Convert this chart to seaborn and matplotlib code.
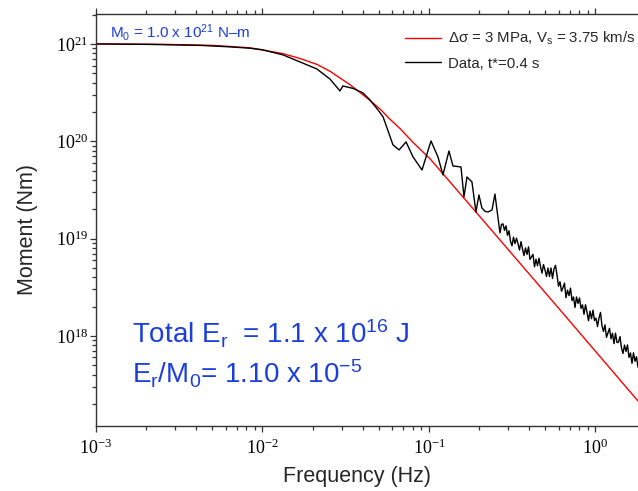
import numpy as np
import matplotlib
matplotlib.use("Agg")
import matplotlib.pyplot as plt
import seaborn as sns
import pandas as pd
from matplotlib.ticker import LogLocator, NullFormatter

# ---- values (frequency in Hz, log10 of moment in N·m) ----
model_freq = [0.001, 0.0025, 0.005, 0.0084, 0.0133, 0.0168, 0.0212, 0.0254, 0.0292,
              0.0336, 0.0386, 0.0442, 0.0509, 0.058, 0.067, 0.080, 0.1014, 0.2023,
              0.612, 1.80]
model_log_moment = [21.0, 20.996, 20.985, 20.96, 20.90, 20.85, 20.79, 20.72, 20.65,
                    20.58, 20.50, 20.42, 20.33, 20.23, 20.13, 19.99, 19.82, 19.225,
                    18.268, 17.331]

data_freq = [0.001, 0.00211, 0.00422, 0.00638, 0.00841, 0.01, 0.0133, 0.0168, 0.0212,
             0.0254, 0.0292, 0.0304, 0.0350, 0.0402, 0.0442, 0.0494, 0.0530, 0.0608,
             0.0661, 0.0728, 0.0802, 0.0908, 0.1028, 0.1132, 0.1213, 0.1318, 0.1393,
             0.1556, 0.1622, 0.1691, 0.1811, 0.1914, 0.1995, 0.208, 0.217, 0.226,
             0.239, 0.249, 0.256,
             0.2669, 0.2725, 0.2782, 0.2841, 0.2900, 0.2961, 0.3023, 0.3087, 0.3151,
             0.3217, 0.3285, 0.3354, 0.3424, 0.3496, 0.3569, 0.3644, 0.3720, 0.3798,
             0.3878, 0.3959, 0.4042, 0.4127, 0.4213, 0.4302, 0.4392, 0.4484, 0.4578,
             0.4674, 0.4772, 0.4872, 0.4974, 0.5078, 0.5185, 0.5293, 0.5404, 0.5518,
             0.5633, 0.5751, 0.5872, 0.5995, 0.6121, 0.6249, 0.6380, 0.6514, 0.6650,
             0.6790, 0.6932, 0.7077, 0.7226, 0.7377, 0.7532, 0.7690, 0.7851, 0.8015,
             0.8183, 0.8355, 0.8530, 0.8709, 0.8891, 0.9078, 0.9268, 0.9462, 0.9660,
             0.9863, 1.0070, 1.0281, 1.0496, 1.0716, 1.0941, 1.1170, 1.1404, 1.1643,
             1.1887, 1.2136, 1.2391, 1.2650, 1.2915, 1.3186, 1.3462, 1.3744, 1.4032,
             1.4326, 1.4627, 1.4933, 1.5246, 1.5565, 1.5892, 1.6225, 1.6565, 1.6912,
             1.7266, 1.7628, 1.7997]
data_log_moment = [21.0, 20.995, 20.985, 20.97, 20.956, 20.94, 20.887, 20.815, 20.743,
                   20.64, 20.517, 20.568, 20.543, 20.496, 20.424, 20.322, 20.25, 19.962,
                   19.911, 19.993, 19.839, 19.705, 20.003, 19.839, 19.654, 19.90, 19.746,
                   19.736, 19.428, 19.633, 19.582, 19.273, 19.448, 19.314, 19.28, 19.273,
                   19.294, 19.458, 19.294,
                   19.058, 19.145, 19.151, 19.084, 19.131, 19.033, 19.080, 18.972, 18.926,
                   19.014, 18.948, 19.004, 18.948, 18.882, 18.969, 18.893, 18.826, 18.904,
                   18.837, 18.915, 18.786, 18.812, 18.838, 18.710, 18.788, 18.721, 18.798,
                   18.711, 18.645, 18.733, 18.676, 18.610, 18.697, 18.610, 18.698, 18.590,
                   18.688, 18.725, 18.627, 18.510, 18.556, 18.459, 18.495, 18.542, 18.393,
                   18.470, 18.414, 18.491, 18.363, 18.400, 18.292, 18.400, 18.334, 18.390,
                   18.283, 18.319, 18.222, 18.320, 18.243, 18.156, 18.254, 18.177, 18.265,
                   18.157, 18.183, 18.096, 18.184, 18.241, 18.102, 18.046, 18.113, 17.985,
                   18.031, 18.078, 17.970, 18.027, 17.920, 18.028, 17.931, 17.936, 17.993,
                   17.875, 17.819, 17.906, 17.840, 17.907, 17.779, 17.825, 17.718, 17.826,
                   17.739, 17.786, 17.678]

model_label = "Δσ = 3 MPa, V$_{\\rm s}$ = 3.75 km/s"
data_label = "Data, t*=0.4 s"
m0_text = "M$_0$ = 1.0 x 10$^{21}$ N\u2013m"
energy_text = "Total E$_{\\rm r}$  = 1.1 x 10$^{16}$ J"
ratio_text = "E$_{\\rm r}$/M$_{\\rm 0}$= 1.10 x 10$^{-5}$"
x_label = "Frequency (Hz)"
y_label = "Moment (Nm)"

# ---- style ----
sns.set_style("ticks")
plt.rcParams["font.family"] = ["Liberation Sans", "DejaVu Sans"]
plt.rcParams["mathtext.fontset"] = "custom"
plt.rcParams["mathtext.rm"] = "Liberation Sans"
plt.rcParams["mathtext.it"] = "Liberation Sans:italic"
plt.rcParams["mathtext.bf"] = "Liberation Sans:bold"
plt.rcParams["mathtext.sf"] = "Liberation Sans"

W, H = 638, 491
fig = plt.figure(figsize=(W / 100, H / 100), dpi=100)
ax = fig.add_axes([96 / W, 1 - 426 / H, 542 / W, 412 / H])
ax.set_xscale("log")
ax.set_yscale("log")

model_df = pd.DataFrame({"freq": model_freq,
                         "moment": 10 ** np.array(model_log_moment)})
data_df = pd.DataFrame({"freq": data_freq,
                        "moment": 10 ** np.array(data_log_moment)})

sns.lineplot(data=model_df, x="freq", y="moment", ax=ax, color="#ff0000",
             lw=1.0, label=model_label, estimator=None, sort=False)
sns.lineplot(data=data_df, x="freq", y="moment", ax=ax, color="black",
             lw=1.0, label=data_label, estimator=None, sort=False)

ax.set_xlim(1e-3, 1.80)
ax.set_ylim(1.186e17, 2.03e21)

spine_col = "#333333"
for side in ["left", "bottom", "top"]:
    ax.spines[side].set_color(spine_col)
    ax.spines[side].set_linewidth(1.0)
ax.spines["right"].set_visible(False)

ax.xaxis.set_major_locator(LogLocator(base=10, numticks=10))
ax.xaxis.set_minor_locator(LogLocator(base=10, subs=np.arange(2, 10), numticks=20))
ax.yaxis.set_major_locator(LogLocator(base=10, numticks=10))
ax.yaxis.set_minor_locator(LogLocator(base=10, subs=np.arange(2, 10), numticks=20))
ax.xaxis.set_minor_formatter(NullFormatter())
ax.yaxis.set_minor_formatter(NullFormatter())

ax.tick_params(which="both", direction="out", color=spine_col, width=0.9,
               top=True, right=False, labelfontfamily="Liberation Serif",
               labelsize=13, labelcolor="black")
ax.tick_params(which="major", length=4.5)
ax.tick_params(which="minor", length=3)
ax.tick_params(axis="y", pad=1)
ax.tick_params(axis="x", pad=4.5)

ax.set_xlabel(x_label, fontsize=15.5)
ax.set_ylabel(y_label, fontsize=15.5)
ax.xaxis.set_label_coords(0.4815, -0.097)
ax.yaxis.set_label_coords(-0.107, 0.476)

leg = ax.legend(loc="upper right", bbox_to_anchor=(635 / W, 1 - 30 / H),
                bbox_transform=fig.transFigure, frameon=False, fontsize=10.8,
                handlelength=2.4, handletextpad=0.45, labelspacing=0.62,
                borderaxespad=0, borderpad=0)

blue = "#1c3fdc"
fig.text(110 / W, 1 - 38 / H, m0_text, color=blue, fontsize=11, va="baseline")
fig.text(132 / W, 1 - 343 / H, energy_text, color=blue, fontsize=20, va="baseline")
fig.text(132 / W, 1 - 383 / H, ratio_text, color=blue, fontsize=20, va="baseline")

fig.savefig("out.png", dpi=100)
